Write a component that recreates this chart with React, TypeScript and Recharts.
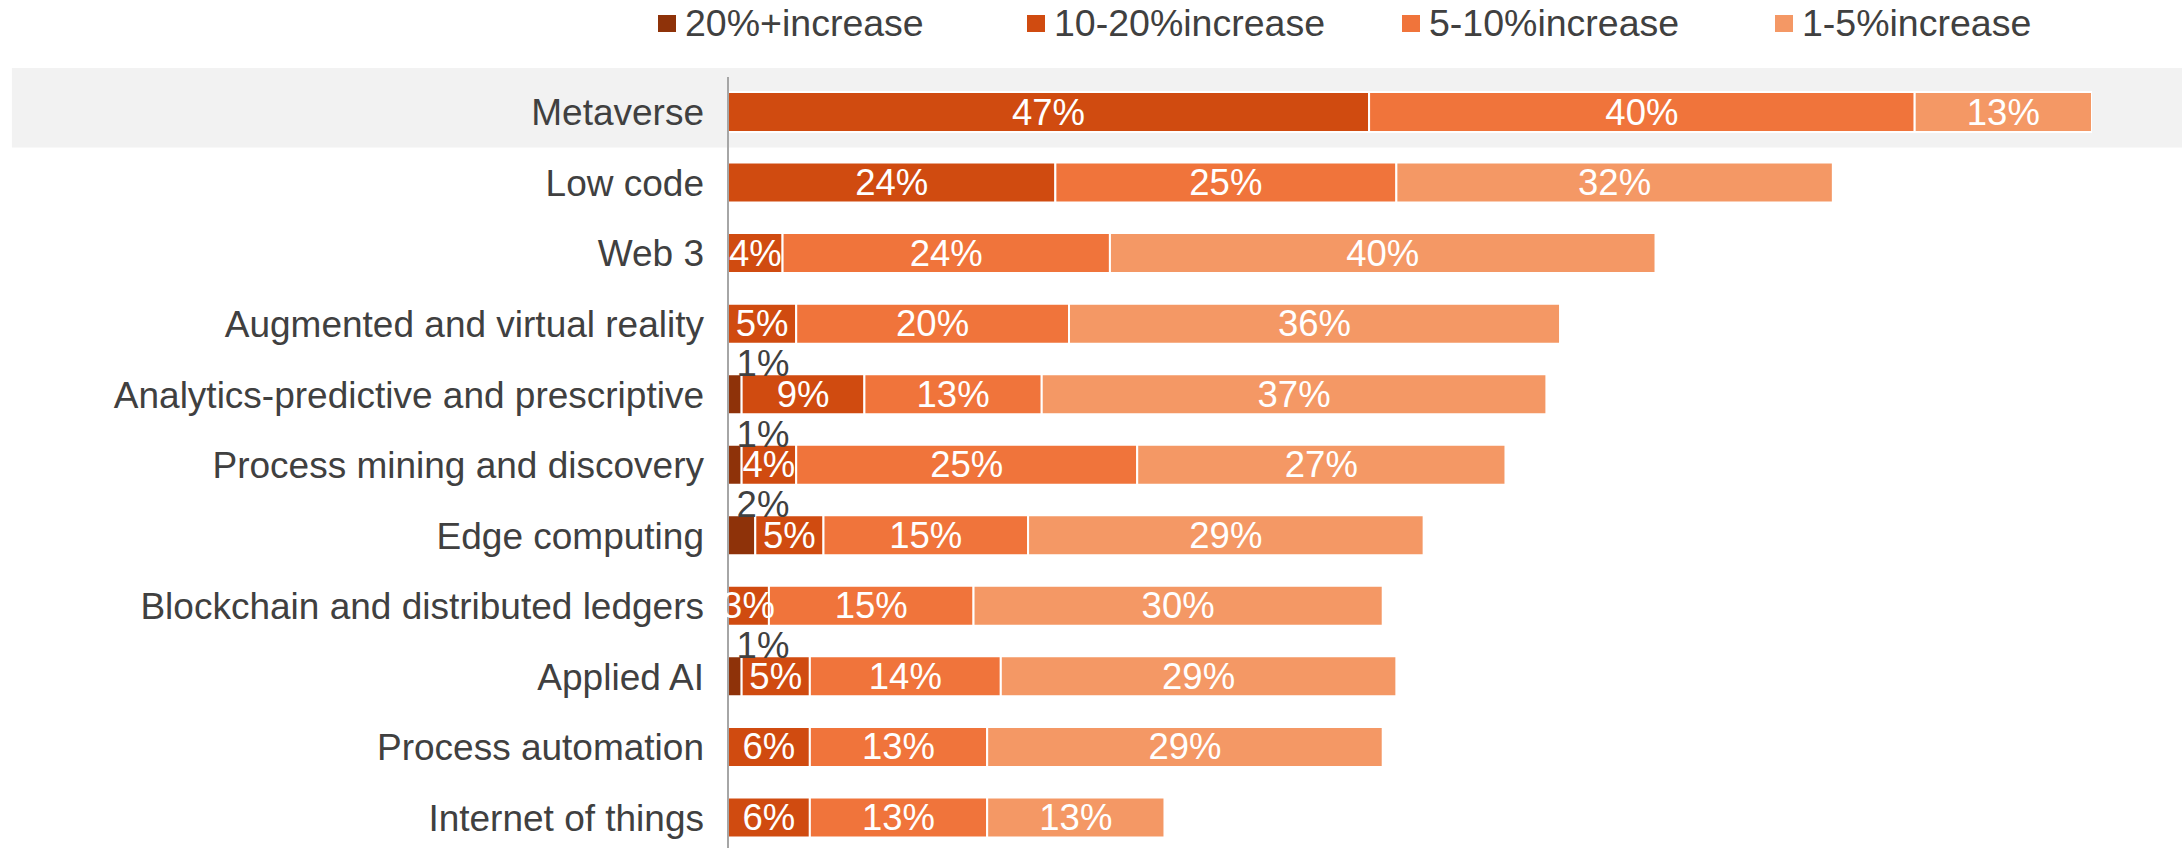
import { BarChart, Bar, XAxis, YAxis, Legend, LabelList, ReferenceArea } from "recharts";

const categories = [
  "Metaverse",
  "Low code",
  "Web 3",
  "Augmented and virtual reality",
  "Analytics-predictive and prescriptive",
  "Process mining and discovery",
  "Edge computing",
  "Blockchain and distributed ledgers",
  "Applied AI",
  "Process automation",
  "Internet of things",
];
const over20 = [0, 0, 0, 0, 1, 1, 2, 0, 1, 0, 0];
const from10to20 = [47, 24, 4, 5, 9, 4, 5, 3, 5, 6, 6];
const from5to10 = [40, 25, 24, 20, 13, 25, 15, 15, 14, 13, 13];
const from1to5 = [13, 32, 40, 36, 37, 27, 29, 30, 29, 29, 13];

const seriesNames = ["20%+increase", "10-20%increase", "5-10%increase", "1-5%increase"];
const seriesKeys = ["over20", "from10to20", "from5to10", "from1to5"];
const COLORS = ["#8E3209", "#D04B10", "#F0743B", "#F49865"];

const FONT = '"Liberation Sans", Arial, Helvetica, sans-serif';
const TEXT = "#404040";
const LEGEND_LEFT = [658, 1027, 1402, 1775];

const data = categories.map((name, i) => ({
  name,
  over20: over20[i],
  from10to20: from10to20[i],
  from5to10: from5to10[i],
  from1to5: from1to5[i],
}));

function InsideLabel(props: any) {
  const { x, y, width, height, value } = props;
  if (!value) return null;
  return (
    <text
      x={x + width / 2}
      y={y + height / 2}
      textAnchor="middle"
      dominantBaseline="central"
      fill="#ffffff"
      fontSize={36.5}
      fontFamily={FONT}
    >
      {value}%
    </text>
  );
}

function TopLabel(props: any) {
  const { x, y, value } = props;
  if (!value) return null;
  return (
    <text x={x + 35} y={y + 2} textAnchor="middle" fill={TEXT} fontSize={36.5} fontFamily={FONT}>
      {value}%
    </text>
  );
}

function renderLegend() {
  return (
    <div style={{ position: "relative", height: 46, width: 2182 }}>
      {seriesNames.map((n, i) => (
        <div
          key={n}
          style={{
            position: "absolute",
            left: LEGEND_LEFT[i],
            top: 0,
            display: "flex",
            alignItems: "center",
            height: 46,
          }}
        >
          <span style={{ width: 18, height: 17, background: COLORS[i], marginRight: 9, display: "inline-block" }} />
          <span style={{ fontFamily: FONT, fontSize: 37.5, color: TEXT, whiteSpace: "nowrap" }}>{n}</span>
        </div>
      ))}
    </div>
  );
}

export default function App() {
  return (
    <div style={{ position: "absolute", left: 0, top: 0, background: "#fff" }}>
      <BarChart
        width={2182}
        height={858}
        data={data}
        layout="vertical"
        barSize={40}
        margin={{ top: 77, right: 90, bottom: 5, left: 0 }}
      >
        <ReferenceArea
          x1={-52.5}
          x2={106.6}
          y1="Metaverse"
          y2="Metaverse"
          ifOverflow="visible"
          shape={(p: any) => <rect x={p.x} y={p.y - 9} width={p.width} height={p.height + 9} fill="#F2F2F2" />}
        />
        <XAxis type="number" domain={[0, 100]} hide allowDataOverflow />
        <YAxis
          type="category"
          dataKey="name"
          width={728}
          tickLine={false}
          tickSize={0}
          tickMargin={24}
          axisLine={{ stroke: "#A6A6A6", strokeWidth: 2 }}
          tick={{ fill: TEXT, fontSize: 37, fontFamily: FONT }}
          interval={0}
        />
        <Legend
          layout="horizontal"
          verticalAlign="middle"
          align="center"
          wrapperStyle={{ top: 0, left: 0, width: 2182 }}
          content={renderLegend}
        />
        {seriesKeys.map((k, i) => (
          <Bar
            key={k}
            dataKey={k}
            name={seriesNames[i]}
            stackId="a"
            fill={COLORS[i]}
            stroke="#ffffff"
            strokeWidth={2}
            isAnimationActive={false}
          >
            <LabelList dataKey={k} content={i === 0 ? TopLabel : InsideLabel} />
          </Bar>
        ))}
      </BarChart>
    </div>
  );
}
